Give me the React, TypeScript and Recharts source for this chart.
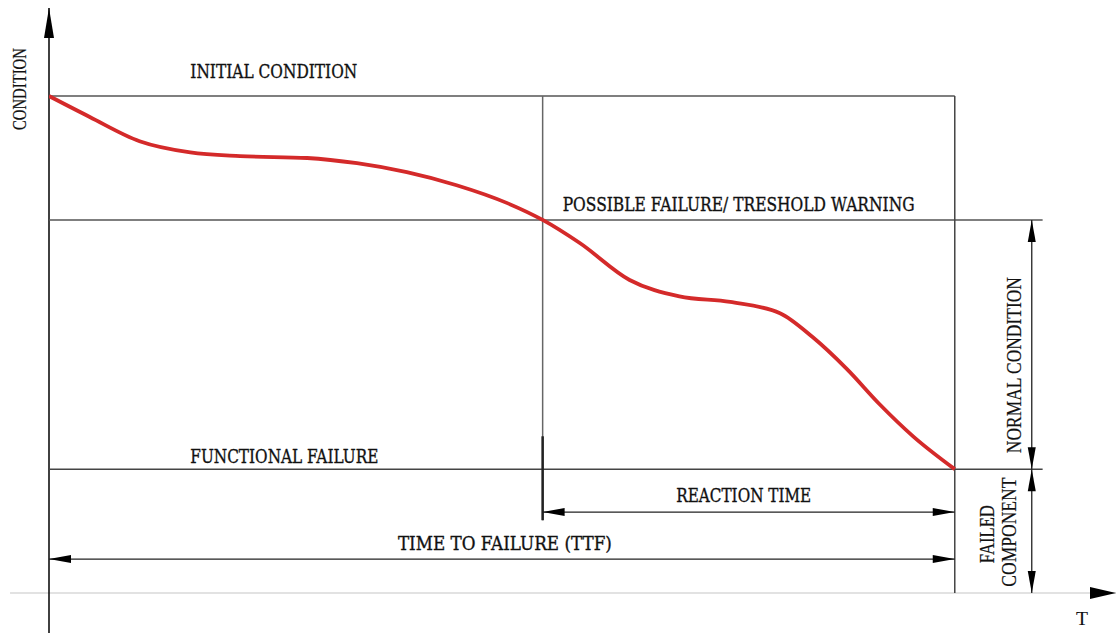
import { LineChart, Line, XAxis, YAxis, ReferenceLine, ReferenceDot } from 'recharts';

// Condition curve (time in % of TTF, condition in % between failure and initial)
const timeValues = [0, 4.5, 10, 15.6, 21.1, 28.5, 34, 39.5, 45, 50.6, 54.5, 58.6, 64.1, 69.6, 75.2, 80.7, 84.3, 88.1, 91.7, 95.4, 100];
const conditionValues = [100, 94.4, 87.9, 84.9, 83.9, 83.4, 82.0, 79.6, 76.1, 71.3, 66.8, 60.6, 50.7, 46.3, 44.8, 41.8, 35.4, 26.8, 17.4, 8.8, 0];

// Levels and moments
const levels = { initial: 100, threshold: 66.8, failure: 0 };
const moments = { warning: 54.5, failure: 100 };

const curveData = timeValues.map((t, i) => ({ t, c: conditionValues[i] }));

const X_DOMAIN: [number, number] = [0, 117.8];
const Y_DOMAIN: [number, number] = [-33.2, 123.6];

const SERIF_H = '"DejaVu Serif", "Liberation Serif", serif';
const SERIF_V = '"Liberation Serif", "Times New Roman", serif';

type ArrowOpts = {
  stroke: string;
  width: number;
  start?: boolean;
  end?: boolean;
  len?: number;
  half?: number;
  head?: string;
};

const arrowLine = ({ stroke, width, start, end, len = 22, half = 4, head = '#000' }: ArrowOpts) => (p: any) => {
  const { x1, y1, x2, y2 } = p;
  const dx = x2 - x1;
  const dy = y2 - y1;
  const L = Math.hypot(dx, dy) || 1;
  const ux = dx / L;
  const uy = dy / L;
  const tri = (tx: number, ty: number, dirx: number, diry: number) => {
    const bx = tx - dirx * len;
    const by = ty - diry * len;
    const nx = -diry * half;
    const ny = dirx * half;
    return `${tx},${ty} ${bx + nx},${by + ny} ${bx - nx},${by - ny}`;
  };
  return (
    <g>
      <line x1={x1} y1={y1} x2={x2} y2={y2} stroke={stroke} strokeWidth={width} />
      {end && <polygon points={tri(x2, y2, ux, uy)} fill={head} />}
      {start && <polygon points={tri(x1, y1, -ux, -uy)} fill={head} />}
    </g>
  );
};

type TextOpts = {
  text: string;
  size: number;
  length: number;
  anchor?: 'start' | 'middle' | 'end';
  dx?: number;
  dy?: number;
  rotate?: boolean;
  font?: string;
  weight?: number;
};

const label = ({ text, size, length, anchor = 'start', dx = 0, dy = 0, rotate, font = SERIF_H, weight = 0.35 }: TextOpts) => (p: any) => {
  const x = p.cx + dx;
  const y = p.cy + dy;
  return (
    <text
      x={x}
      y={y}
      fontFamily={font}
      fontSize={size}
      fill="#111"
      stroke="#111"
      strokeWidth={weight}
      textAnchor={anchor}
      textLength={length}
      lengthAdjust="spacingAndGlyphs"
      transform={rotate ? `rotate(-90, ${x}, ${y})` : undefined}
    >
      {text}
    </text>
  );
};

export default function App() {
  const dimX = 108.5;
  return (
    <div style={{ width: 1116, height: 633, background: '#fff' }}>
      <style>{'body{margin:0}'}</style>
      <LineChart width={1116} height={633} data={curveData} margin={{ top: 8, right: 0, bottom: 40, left: 49 }}>
        <XAxis type="number" dataKey="t" domain={X_DOMAIN} hide allowDataOverflow />
        <YAxis type="number" domain={Y_DOMAIN} hide allowDataOverflow />

        {/* axes */}
        <ReferenceLine
          segment={[{ x: -4.3, y: Y_DOMAIN[0] }, { x: X_DOMAIN[1], y: Y_DOMAIN[0] }]}
          ifOverflow="visible"
          shape={arrowLine({ stroke: '#e2e2e2', width: 2, end: true, len: 26, half: 6 })}
        />
        <ReferenceLine
          segment={[{ x: 0, y: -44 }, { x: 0, y: Y_DOMAIN[1] }]}
          ifOverflow="visible"
          shape={arrowLine({ stroke: '#111', width: 1.6, end: true, len: 30, half: 5 })}
        />

        {/* level lines */}
        <ReferenceLine
          segment={[{ x: 0, y: levels.initial }, { x: moments.failure, y: levels.initial }]}
          ifOverflow="visible"
          shape={arrowLine({ stroke: '#555', width: 1.5 })}
        />
        <ReferenceLine
          segment={[{ x: 0, y: levels.threshold }, { x: 109.7, y: levels.threshold }]}
          ifOverflow="visible"
          shape={arrowLine({ stroke: '#555', width: 1.5 })}
        />
        <ReferenceLine
          segment={[{ x: 0, y: levels.failure }, { x: 109.7, y: levels.failure }]}
          ifOverflow="visible"
          shape={arrowLine({ stroke: '#444', width: 1.5 })}
        />

        {/* vertical markers */}
        <ReferenceLine
          segment={[{ x: moments.warning, y: levels.initial }, { x: moments.warning, y: -13.7 }]}
          ifOverflow="visible"
          shape={arrowLine({ stroke: '#666', width: 1.5 })}
        />
        <ReferenceLine
          segment={[{ x: moments.warning, y: 8.8 }, { x: moments.warning, y: -13.7 }]}
          ifOverflow="visible"
          shape={arrowLine({ stroke: '#222', width: 2.5 })}
        />
        <ReferenceLine
          segment={[{ x: moments.failure, y: levels.initial }, { x: moments.failure, y: Y_DOMAIN[0] }]}
          ifOverflow="visible"
          shape={arrowLine({ stroke: '#444', width: 1.5 })}
        />

        {/* dimension arrows */}
        <ReferenceLine
          segment={[{ x: moments.warning, y: -11.5 }, { x: moments.failure, y: -11.5 }]}
          ifOverflow="visible"
          shape={arrowLine({ stroke: '#222', width: 1.3, start: true, end: true })}
        />
        <ReferenceLine
          segment={[{ x: 0, y: -24.1 }, { x: moments.failure, y: -24.1 }]}
          ifOverflow="visible"
          shape={arrowLine({ stroke: '#222', width: 1.3, start: true, end: true })}
        />
        <ReferenceLine
          segment={[{ x: dimX, y: levels.threshold }, { x: dimX, y: levels.failure }]}
          ifOverflow="visible"
          shape={arrowLine({ stroke: '#222', width: 1.3, start: true, end: true })}
        />
        <ReferenceLine
          segment={[{ x: dimX, y: levels.failure }, { x: dimX, y: Y_DOMAIN[0] }]}
          ifOverflow="visible"
          shape={arrowLine({ stroke: '#222', width: 1.3, start: true, end: true })}
        />

        <Line
          type="monotone"
          dataKey="c"
          stroke="#d42a2a"
          strokeWidth={3.8}
          dot={false}
          activeDot={false}
          isAnimationActive={false}
        />

        {/* texts */}
        <ReferenceDot x={15.6} y={levels.initial} r={0} ifOverflow="visible"
          shape={label({ text: 'INITIAL CONDITION', size: 19, length: 167, dy: -18 })} />
        <ReferenceDot x={moments.warning} y={levels.threshold} r={0} ifOverflow="visible"
          shape={label({ text: 'POSSIBLE FAILURE/ TRESHOLD WARNING', size: 19, length: 352, dx: 20, dy: -9 })} />
        <ReferenceDot x={15.6} y={levels.failure} r={0} ifOverflow="visible"
          shape={label({ text: 'FUNCTIONAL FAILURE', size: 19, length: 188, dy: -6 })} />
        <ReferenceDot x={(moments.warning + moments.failure) / 2} y={-11.5} r={0} ifOverflow="visible"
          shape={label({ text: 'REACTION TIME', size: 19, length: 135, anchor: 'middle', dx: -5, dy: -10 })} />
        <ReferenceDot x={moments.failure / 2} y={-24.1} r={0} ifOverflow="visible"
          shape={label({ text: 'TIME TO FAILURE (TTF)', size: 19, length: 214, anchor: 'middle', dx: 3, dy: -9 })} />
        <ReferenceDot x={0} y={levels.initial} r={0} ifOverflow="visible"
          shape={label({ text: 'CONDITION', size: 19.5, length: 82, anchor: 'middle', dx: -23, dy: -7, rotate: true, font: SERIF_V, weight: 0.2 })} />
        <ReferenceDot x={dimX} y={levels.failure} r={0} ifOverflow="visible"
          shape={label({ text: 'NORMAL CONDITION', size: 20, length: 176, anchor: 'middle', dx: -11, dy: -104, rotate: true, font: SERIF_V, weight: 0.2 })} />
        <ReferenceDot x={dimX} y={levels.failure} r={0} ifOverflow="visible"
          shape={label({ text: 'FAILED', size: 20, length: 58, anchor: 'middle', dx: -38, dy: 65, rotate: true, font: SERIF_V, weight: 0.2 })} />
        <ReferenceDot x={dimX} y={levels.failure} r={0} ifOverflow="visible"
          shape={label({ text: 'COMPONENT', size: 20, length: 109, anchor: 'middle', dx: -16, dy: 63, rotate: true, font: SERIF_V, weight: 0.2 })} />
        <ReferenceDot x={X_DOMAIN[1]} y={Y_DOMAIN[0]} r={0} ifOverflow="visible"
          shape={label({ text: 'T', size: 19, length: 12, anchor: 'middle', dx: -34, dy: 32, font: SERIF_V, weight: 0.1 })} />
      </LineChart>
    </div>
  );
}
